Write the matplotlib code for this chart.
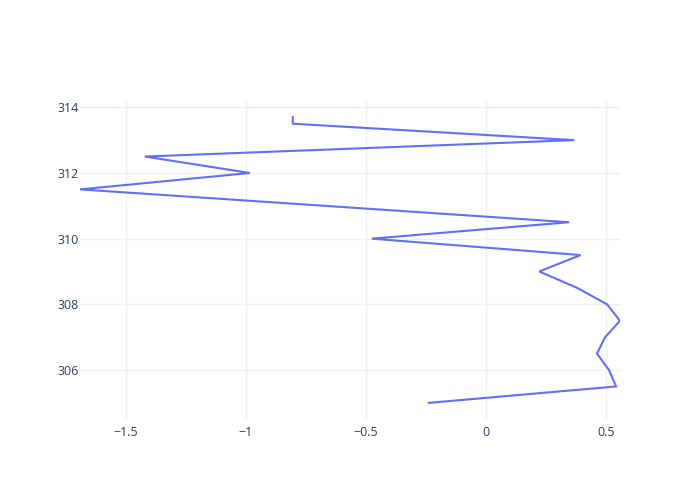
import matplotlib.pyplot as plt

# values
x_vals = [-0.804, -0.804, 0.367, -1.42, -0.983, -1.69, 0.346, -0.475, 0.394,
          0.222, 0.38, 0.504, 0.558, 0.496, 0.462, 0.512, 0.542, -0.2375]
y_vals = [313.7, 313.5, 313.0, 312.5, 312.0, 311.5, 310.5, 310.0, 309.5,
          309.0, 308.5, 308.0, 307.5, 307.0, 306.5, 306.0, 305.5, 305.0]
x_ticks = [-1.5, -1, -0.5, 0, 0.5]
x_labels = ['\u22121.5', '\u22121', '\u22120.5', '0', '0.5']
y_ticks = [306, 308, 310, 312, 314]

plt.rcParams['font.family'] = ['Open Sans', 'DejaVu Sans']

fig = plt.figure(figsize=(7, 5), dpi=100)
ax = fig.add_axes([80 / 700, 80 / 500, 540 / 700, 320 / 500])

ax.plot(x_vals, y_vals, color='#636efa', lw=1.5, solid_joinstyle='miter', zorder=3)

ax.set_xlim(min(x_vals), max(x_vals))
pad = (max(y_vals) - min(y_vals)) * 0.06
ax.set_ylim(min(y_vals) - pad, max(y_vals) + pad)

ax.set_xticks(x_ticks)
ax.set_xticklabels(x_labels)
ax.set_yticks(y_ticks)
ax.grid(True, color='#ebf0f8', lw=1)
ax.set_axisbelow(True)
for s in ax.spines.values():
    s.set_visible(False)
ax.tick_params(length=0, labelsize=9, labelcolor='#2a3f5f')
ax.tick_params(axis='y', pad=1)
ax.tick_params(axis='x', pad=4)

fig.savefig('out.png', dpi=100)
